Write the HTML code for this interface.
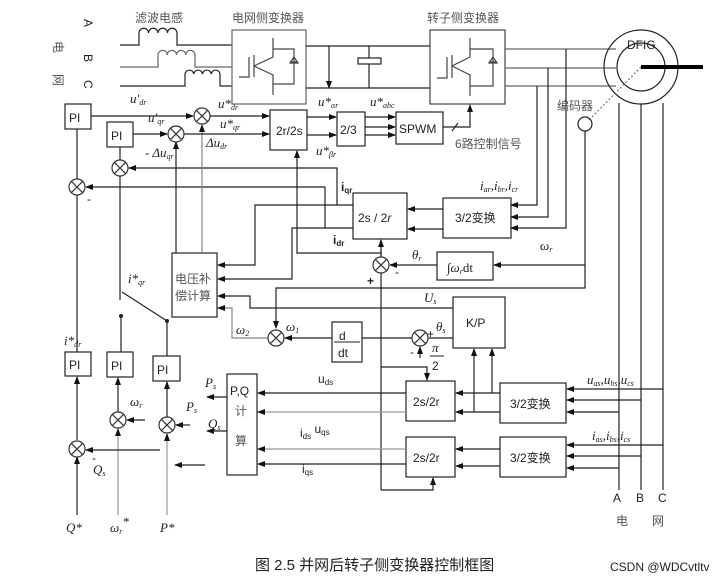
<!DOCTYPE html>
<html><head><meta charset="utf-8"><style>
html,body{margin:0;padding:0;background:#fff;}
svg{display:block;}
text{font-family:"Liberation Sans","Noto Sans CJK SC",sans-serif;font-size:12px;fill:#222;}
.m{font-family:"Liberation Serif",serif;font-style:italic;font-size:13px;}
.s{font-size:8px;}
.cn{font-family:"Liberation Sans","Noto Sans CJK SC",sans-serif;fill:#555;font-size:12px;}
.cap{font-family:"Liberation Sans","Noto Sans CJK SC",sans-serif;font-size:15px;fill:#222;}
</style></head><body>
<svg width="728" height="579" viewBox="0 0 728 579" xmlns="http://www.w3.org/2000/svg">
<defs>
<marker id="a" markerWidth="8" markerHeight="8" refX="7" refY="4" orient="auto" markerUnits="userSpaceOnUse"><path d="M0,1 L8,4 L0,7 z" fill="#111"/></marker>
<g id="sum"><circle r="8" fill="#fff" stroke="#333" stroke-width="1.2"/><path d="M-5.6,-5.6 L5.6,5.6 M-5.6,5.6 L5.6,-5.6" stroke="#333" stroke-width="1.2"/></g>
</defs>
<g fill="none" stroke="#222" stroke-width="1.2">
<path d="M120,45 H139 V33 a4.75,4.75 0 0 1 9.5,0 a4.75,4.75 0 0 1 9.5,0 a4.75,4.75 0 0 1 9.5,0 a4.75,4.75 0 0 1 9.5,0 V45 H232"/>
<path d="M120,67 H158 V55 a4.6,4.6 0 0 1 9.25,0 a4.6,4.6 0 0 1 9.25,0 a4.6,4.6 0 0 1 9.25,0 a4.6,4.6 0 0 1 9.25,0 V67 H232" stroke="#666"/>
<path d="M120,86 H185 V74 a4.4,4.4 0 0 1 8.75,0 a4.4,4.4 0 0 1 8.75,0 a4.4,4.4 0 0 1 8.75,0 a4.4,4.4 0 0 1 8.75,0 V86 H232"/>
<rect x="232" y="30" width="74" height="74" stroke="#666"/>
<path d="M239,77 H249 V57 M254,55 V77 M254,66 L273,57 V38 M254,66 L273,75 V95 M273,49 H294 V84 H273 M290,62 H298" stroke="#444"/>
<path d="M294,57 L290,63 H298 z" stroke="#444"/>
<path d="M306,46 H430 M306,88 H430 M369,46 V58 M369,64 V88"/>
<rect x="358" y="58" width="23" height="6"/>
<path d="M329,46 V88" marker-end="url(#a)"/>
<rect x="430" y="30" width="75" height="74" stroke="#444"/>
<path d="M437,78 H447 V57 M452,55 V78 M452,66 L470,57 V38 M452,66 L470,75 V96 M470,49 H493 V86 H470 M489,62 H497" stroke="#444"/>
<path d="M493,57 L489,63 H497 z" stroke="#444"/>
<path d="M505,49 H616 M505,68 H616 M505,86 H616" stroke="#666"/>
<path d="M566,49 V228 H511" marker-end="url(#a)"/>
<path d="M548,68 V217 H511" marker-end="url(#a)"/>
<path d="M537,86 V205 H511" marker-end="url(#a)"/>
<circle cx="641" cy="67" r="37"/>
<circle cx="641" cy="67" r="24"/>
<path d="M641,67 H703" stroke="#000" stroke-width="4"/>
<path d="M641,67 L588,121" stroke-dasharray="2,2" stroke="#777"/>
<circle cx="585" cy="124" r="7"/>
<path d="M619,103 V490 M641,104 V490 M663,103 V490"/>
<path d="M585,131 V288 H276 V328" marker-end="url(#a)"/>
<path d="M585,265 H494" marker-end="url(#a)"/>
<rect x="437" y="252" width="56" height="28"/>
<path d="M437,265 H390" marker-end="url(#a)"/>
<rect x="443" y="198" width="68" height="40"/>
<path d="M443,209 H408" marker-end="url(#a)"/>
<path d="M443,229 H408" marker-end="url(#a)"/>
<rect x="353" y="193" width="54" height="46"/>
<path d="M381,490 V250" />
<path d="M381,258 V240" marker-end="url(#a)"/>
<path d="M381,253 H297 V151" marker-end="url(#a)"/>
<path d="M381,490 H433 V478" marker-end="url(#a)"/>
<path d="M381,367 H427 V380" marker-end="url(#a)"/>
<path d="M353,205 H255 V265 H218" marker-end="url(#a)"/>
<path d="M337,205 V168 H129" marker-end="url(#a)"/>
<path d="M353,228 H292 V279 H218" marker-end="url(#a)"/>
<path d="M325,228 V187 H86" marker-end="url(#a)"/>
<rect x="172" y="253" width="45" height="64"/>
<path d="M453,308 H250 V296 H218" marker-end="url(#a)"/>
<path d="M268,338 H232 V308 H218" stroke="#888" marker-end="url(#a)"/>
<path d="M176,253 V142" marker-end="url(#a)"/>
<path d="M202,253 V125" stroke="#888" marker-end="url(#a)"/>
<rect x="332" y="322" width="30" height="40"/>
<path d="M332,338 H285" marker-end="url(#a)"/>
<path d="M412,338 H362 M428,338 H453"/>
<path d="M420,358 V347" marker-end="url(#a)"/>
<rect x="453" y="297" width="52" height="51"/>
<path d="M474,412 V349" marker-end="url(#a)"/>
<path d="M492,393 V349" marker-end="url(#a)"/>
<rect x="406" y="381" width="49" height="40"/>
<rect x="406" y="437" width="49" height="40"/>
<rect x="500" y="383" width="66" height="40"/>
<rect x="500" y="437" width="66" height="40"/>
<path d="M500,393 H456" marker-end="url(#a)"/>
<path d="M500,412 H456" marker-end="url(#a)"/>
<path d="M500,449 H456" marker-end="url(#a)"/>
<path d="M500,466 H456" marker-end="url(#a)"/>
<path d="M663,389 H567" marker-end="url(#a)"/>
<path d="M641,400 H567" marker-end="url(#a)"/>
<path d="M619,412 H567" marker-end="url(#a)"/>
<path d="M663,445 H567" marker-end="url(#a)"/>
<path d="M641,456 H567" marker-end="url(#a)"/>
<path d="M619,468 H567" marker-end="url(#a)"/>
<rect x="227" y="374" width="30" height="101"/>
<path d="M406,393 H258" marker-end="url(#a)"/>
<path d="M406,412 H258" stroke="#999" marker-end="url(#a)"/>
<path d="M406,449 H258" stroke="#999" marker-end="url(#a)"/>
<path d="M406,464 H258" marker-end="url(#a)"/>
<path d="M227,397 H207" marker-end="url(#a)"/>
<path d="M227,431 H207" marker-end="url(#a)"/>
<rect x="65" y="104" width="26" height="25"/>
<rect x="107" y="122" width="26" height="25"/>
<path d="M91,116 H193" marker-end="url(#a)"/>
<path d="M133,134 H167" marker-end="url(#a)"/>
<path d="M210,116 H269" marker-end="url(#a)"/>
<path d="M184,134 H269" marker-end="url(#a)"/>
<rect x="270" y="110" width="37" height="40"/>
<rect x="337" y="112" width="28" height="34"/>
<path d="M307,117 H336" marker-end="url(#a)"/>
<path d="M307,135 H336" marker-end="url(#a)"/>
<rect x="396" y="112" width="47" height="32"/>
<path d="M365,117 H395" marker-end="url(#a)"/>
<path d="M365,127 H395" marker-end="url(#a)"/>
<path d="M365,135 H395" marker-end="url(#a)"/>
<path d="M443,127 H470 V105" marker-end="url(#a)"/>
<path d="M452,131 L458,123"/>
<path d="M77,129 V179 M120,147 V160"/>
<path d="M120,176 V300 M167,321 L122,292 M121,316 V352 M167,321 V356"/>
<path d="M77,352 V195"/>
<rect x="65" y="352" width="26" height="24"/>
<rect x="107" y="352" width="26" height="25"/>
<rect x="153" y="356" width="27" height="25"/>
<path d="M77,440 V377" marker-end="url(#a)"/>
<path d="M118,412 V378" marker-end="url(#a)"/>
<path d="M167,417 V382" marker-end="url(#a)"/>
<path d="M77,515 V457" marker-end="url(#a)"/>
<path d="M118,515 V429" stroke="#999" marker-end="url(#a)"/>
<path d="M167,515 V434" stroke="#999" marker-end="url(#a)"/>
<path d="M160,450 H86" marker-end="url(#a)"/>
<path d="M145,420 H127" marker-end="url(#a)"/>
<path d="M190,425 H176" marker-end="url(#a)"/>
<path d="M205,465 H175" marker-end="url(#a)"/>
</g>
<circle cx="121" cy="316" r="2" fill="#222"/><circle cx="167" cy="321" r="2" fill="#222"/>
<use href="#sum" x="202" y="116"/><use href="#sum" x="176" y="134"/>
<use href="#sum" x="120" y="168"/><use href="#sum" x="77" y="187"/>
<use href="#sum" x="381" y="265"/><use href="#sum" x="276" y="338"/>
<use href="#sum" x="420" y="338"/>
<use href="#sum" x="77" y="449"/><use href="#sum" x="118" y="420"/><use href="#sum" x="167" y="425"/>
<text x="135" y="22" class="cn" font-size="13">滤波电感</text>
<text x="232" y="22" class="cn" font-size="13">电网侧变换器</text>
<text x="427" y="22" class="cn" font-size="13">转子侧变换器</text>
<text x="627" y="49" font-size="13">DFIG</text>
<text x="557" y="110" class="cn">编码器</text>
<text x="455" y="148" class="cn">6路控制信号</text>
<text x="84" y="27" transform="rotate(90 88 23)">A</text>
<text x="84" y="62" transform="rotate(90 88 58)">B</text>
<text x="84" y="88" transform="rotate(90 88 84)">C</text>
<text x="54" y="49" class="cn" transform="rotate(90 58 45)">电</text>
<text x="54" y="82" class="cn" transform="rotate(90 58 78)">网</text>
<text x="69" y="122">PI</text><text x="111" y="140">PI</text>
<text x="69" y="369">PI</text><text x="111" y="370">PI</text><text x="157" y="374">PI</text>
<text x="276" y="135" font-family="Liberation Serif" font-size="14">2r/2s</text>
<text x="340" y="134" font-size="13">2/3</text>
<text x="399" y="133">SPWM</text>
<text x="358" y="222" font-family="Liberation Serif" font-size="14">2s / 2<tspan font-style="italic">r</tspan></text>
<text x="455" y="222">3/2变换</text>
<text x="447" y="272" class="m">∫ω<tspan class="s" dy="2">r</tspan><tspan dy="-2" font-style="normal">dt</tspan></text>
<text x="466" y="327" font-size="14">K/P</text>
<text x="413" y="406" font-family="Liberation Serif" font-size="13">2s/2r</text>
<text x="413" y="462" font-family="Liberation Serif" font-size="13">2s/2r</text>
<text x="510" y="408">3/2变换</text>
<text x="510" y="462">3/2变换</text>
<text x="175" y="283" class="cn" font-size="12">电压补</text>
<text x="175" y="300" class="cn" font-size="12">偿计算</text>
<text x="339" y="340" font-family="Liberation Serif" font-size="13">d</text>
<path d="M334,342 H360" stroke="#222"/>
<text x="338" y="357" font-family="Liberation Serif" font-size="13">dt</text>
<text x="230" y="395" font-size="13">P,Q</text>
<text x="235" y="415" class="cn" font-size="12">计</text>
<text x="235" y="445" class="cn" font-size="12">算</text>
<text x="130" y="103" class="m">u′<tspan class="s" dy="2">dr</tspan></text>
<text x="148" y="122" class="m">u′<tspan class="s" dy="2">qr</tspan></text>
<text x="218" y="108" class="m">u*<tspan class="s" dy="2">dr</tspan></text>
<text x="220" y="128" class="m">u*<tspan class="s" dy="2">qr</tspan></text>
<text x="206" y="147" class="m">Δu<tspan class="s" dy="2">dr</tspan></text>
<text x="145" y="157" class="m">- Δu<tspan class="s" dy="2">qr</tspan></text>
<text x="318" y="106" class="m">u*<tspan class="s" dy="2">αr</tspan></text>
<text x="370" y="106" class="m">u*<tspan class="s" dy="2">abc</tspan></text>
<text x="316" y="155" class="m">u*<tspan class="s" dy="2">βr</tspan></text>
<text x="87" y="203">-</text>
<text x="341" y="191" font-family="Liberation Serif" font-weight="bold" font-size="11">i<tspan class="s" dy="2">qr</tspan></text>
<text x="333" y="244" font-family="Liberation Serif" font-weight="bold" font-size="11">i<tspan class="s" dy="2">dr</tspan></text>
<text x="480" y="190" class="m">i<tspan class="s" dy="2">ar</tspan><tspan dy="-2">,i</tspan><tspan class="s" dy="2">br</tspan><tspan dy="-2">,i</tspan><tspan class="s" dy="2">cr</tspan></text>
<text x="540" y="250" class="m">ω<tspan class="s" dy="2">r</tspan></text>
<text x="412" y="259" class="m">θ<tspan class="s" dy="2">r</tspan></text>
<text x="395" y="276">-</text>
<text x="367" y="285" font-weight="bold">+</text>
<text x="424" y="302" class="m">U<tspan class="s" dy="2">s</tspan></text>
<text x="236" y="334" class="m">ω<tspan class="s" dy="2">2</tspan></text>
<text x="286" y="331" class="m">ω<tspan class="s" dy="2">1</tspan></text>
<text x="427" y="338" font-size="11">+</text>
<text x="436" y="331" class="m">θ<tspan class="s" dy="2">s</tspan></text>
<text x="410" y="356">-</text>
<text x="432" y="352" class="m">π</text>
<path d="M430,356 H444" stroke="#222"/>
<text x="432" y="370" font-family="Liberation Serif" font-size="13">2</text>
<text x="587" y="384" class="m" font-size="12">u<tspan class="s" dy="2">as</tspan><tspan dy="-2">,u</tspan><tspan class="s" dy="2">bs</tspan><tspan dy="-2">,u</tspan><tspan class="s" dy="2">cs</tspan></text>
<text x="592" y="440" class="m" font-size="12">i<tspan class="s" dy="2">as</tspan><tspan dy="-2">,i</tspan><tspan class="s" dy="2">bs</tspan><tspan dy="-2">,i</tspan><tspan class="s" dy="2">cs</tspan></text>
<text x="318" y="383" font-family="Liberation Serif" font-size="12">u<tspan class="s" dy="2">ds</tspan></text>
<text x="300" y="437" font-family="Liberation Serif" font-size="12">i<tspan class="s" dy="2">ds</tspan><tspan dy="-6"> u</tspan><tspan class="s" dy="2">qs</tspan></text>
<text x="302" y="473" font-family="Liberation Serif" font-size="12">i<tspan class="s" dy="2">qs</tspan></text>
<text x="205" y="387" class="m">P<tspan class="s" dy="2">s</tspan></text>
<text x="208" y="428" class="m">Q<tspan class="s" dy="2">s</tspan></text>
<text x="186" y="411" class="m">P<tspan class="s" dy="2">s</tspan></text>
<text x="130" y="406" class="m">ω<tspan class="s" dy="2">r</tspan></text>
<text x="128" y="283" class="m">i*<tspan class="s" dy="2">qr</tspan></text>
<text x="64" y="345" class="m">i*<tspan class="s" dy="2">dr</tspan></text>
<text x="93" y="474" class="m">Q<tspan class="s" dy="2">s</tspan></text>
<text x="92" y="462">-</text>
<text x="66" y="532" class="m">Q*</text>
<text x="110" y="532" class="m">ω<tspan class="s" dy="2">r</tspan><tspan dy="-8">*</tspan></text>
<text x="160" y="532" class="m">P*</text>
<text x="613" y="502">A</text><text x="636" y="502">B</text><text x="658" y="502">C</text>
<text x="616" y="525" class="cn" font-size="11">电</text><text x="652" y="525" class="cn" font-size="11">网</text>
<text x="255" y="570" class="cap">图 2.5 并网后转子侧变换器控制框图</text>
<text x="610" y="571" font-size="11" fill="#888">CSDN @WDCvtltv</text>
</svg>
</body></html>
